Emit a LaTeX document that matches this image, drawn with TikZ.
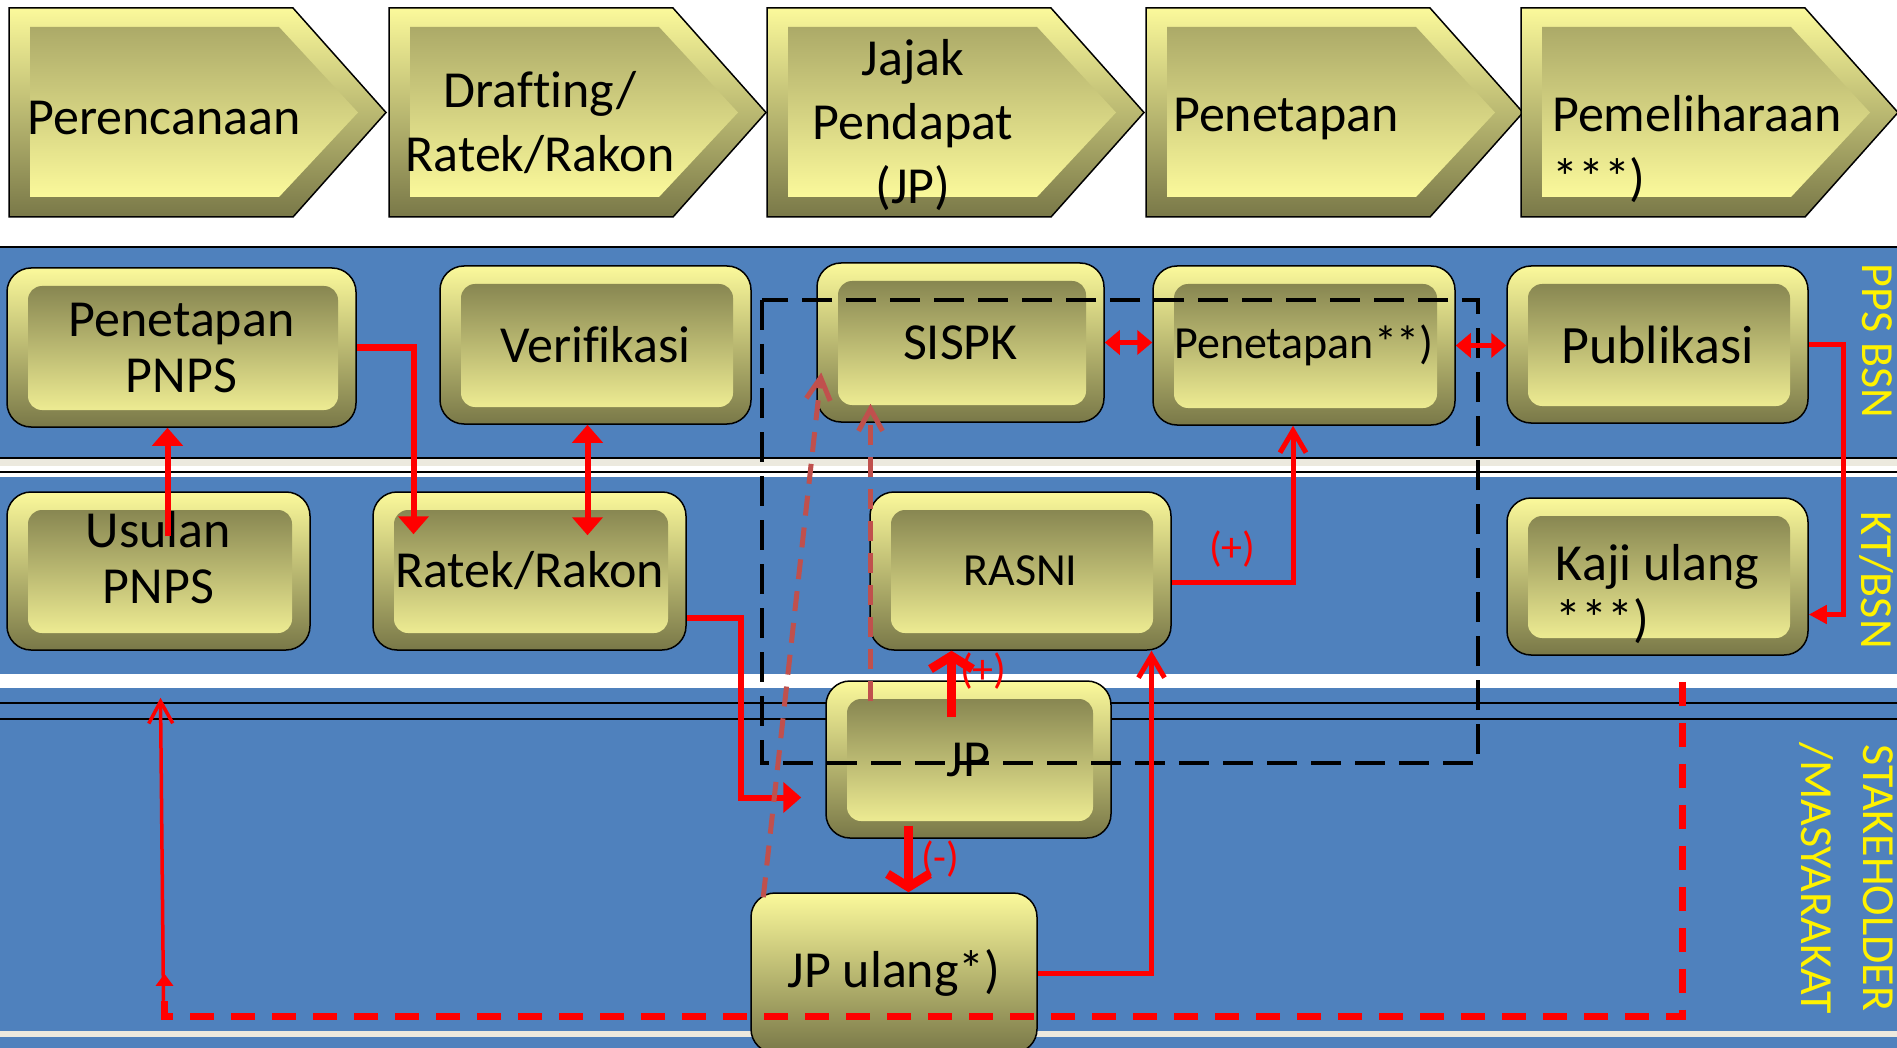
\documentclass[tikz,border=0pt]{standalone}
\usepackage{fontspec}
\setmainfont{Carlito}[Ligatures=CommonOff]
\usetikzlibrary{positioning,arrows.meta,calc}

\definecolor{lane}{RGB}{79,129,189}
\definecolor{ylight}{RGB}{251,249,155}
\definecolor{ymid}{RGB}{172,170,104}
\definecolor{ydark}{RGB}{121,120,72}
\definecolor{cream}{RGB}{236,233,222}
\definecolor{hintred}{RGB}{192,80,77}

\begin{document}
\begin{tikzpicture}[
    x=1pt, y=-1pt,
    stage/.style={draw=black, line width=1.5pt, top color=ylight, bottom color=ydark},
    stagein/.style={top color=ymid, bottom color=ylight},
    stagetext/.style={font=\fontsize{52}{64}\selectfont, inner sep=0pt},
    box/.style={draw=black, line width=1.5pt, rounded corners=24pt, top color=ylight, bottom color=ydark,
        inner sep=0pt, align=center, font=\fontsize{52}{56}\selectfont,
        path picture={\path[top color=ydark, bottom color=ylight, rounded corners=14pt]
            ($(path picture bounding box.north west)+(21,18)$) rectangle
            ($(path picture bounding box.south east)+(-18,-17)$);}},
    plainbox/.style={draw=black, line width=1.5pt, rounded corners=24pt, top color=ylight, bottom color=ydark,
        inner sep=0pt, font=\fontsize{52}{56}\selectfont},
    lanelabel/.style={yellow, rotate=-90, font=\fontsize{46}{62}\selectfont, align=center, inner sep=0pt},
    sign/.style={red, font=\fontsize{42}{44}\selectfont, inner sep=2pt},
    arr/.style={red, line width=6pt, -{Triangle[length=18pt,width=30pt]}},
    arrtwo/.style={red, line width=6pt, {Triangle[length=18pt,width=30pt]}-{Triangle[length=18pt,width=30pt]}},
    dbl/.style={red, line width=5pt, {Triangle[length=15pt,width=24pt]}-{Triangle[length=15pt,width=24pt]}},
    arrsmall/.style={red, line width=5pt, -{Triangle[length=18pt,width=18pt]}},
    open/.style={red, line width=5pt, -{Straight Barb[length=22pt,width=26pt]}},
    bigarr/.style={red, line width=9pt, -{Straight Barb[length=13pt,width=42pt]}},
    openthin/.style={red, line width=3.5pt, -{Straight Barb[length=22pt,width=24pt]}},
    feedback/.style={red, line width=7pt, dash pattern=on 24pt off 17pt, -{Triangle[length=12pt,width=17pt]}},
    hint/.style={hintred, line width=5pt, dash pattern=on 20pt off 12pt, -{Straight Barb[length=22pt,width=24pt]}},
    frame/.style={black, line width=4pt, dash pattern=on 30pt off 14pt}
]
\useasboundingbox (0,0) rectangle (1897,1048);
\clip (0,0) rectangle (1897,1048);

% lanes
\fill[white] (0,0) rectangle (1897,1048);
\fill[lane] (0,247) rectangle (1897,1048);
\draw[line width=2pt] (0,247) -- (1897,247);
\fill[cream] (0,458) rectangle (1897,466);
\fill[white] (0,466) rectangle (1897,477);
\draw[line width=2pt] (0,458) -- (1897,458) (0,471.5) -- (1897,471.5);
\fill[white] (0,674) rectangle (1897,688);
\draw[line width=1.8pt] (0,703) -- (1897,703) (0,719) -- (1897,719);
\fill[cream] (0,1031) rectangle (1897,1037);

% phases on top
\foreach \x in {9,389,767,1146,1521}{
  \path[stage] (\x,8) -- ++(284,0) -- ++(93,104.5) -- ++(-93,104.5) -- ++(-284,0) -- cycle;
  \path[stagein] (\x+21,27) -- (\x+270,27) -- (\x+349,112.5) -- (\x+270,197) -- (\x+21,197) -- cycle;
}
\node[stagetext] (plan) at (164,118) {Perencanaan};
\node[stagetext, align=center] (draft) at (540,123) {Drafting/\\Ratek/Rakon};
\node[stagetext, align=center] (poll) at (913,125) {Jajak\\Pendapat\\(JP)};
\node[stagetext, anchor=west] (decide) at (1173,119) {Penetapan};
\node[stagetext, align=left, anchor=north west] (maint) at (1552,95) {Pemeliharaan\\{}***)};

% lane names
\node[lanelabel] (pps) at (1877,341) {PPS BSN};
\node[lanelabel] (kt) at (1876,580) {KT/BSN};
\node[lanelabel] (stake) at (1846,878) {STAKEHOLDER\\/MASYARAKAT};

% steps
\node[box, minimum width=349pt, minimum height=159pt] (pnps) at (181.5,347.5) {Penetapan\\PNPS};
\node[box, minimum width=311pt, minimum height=158pt] (verif) at (595.5,345) {Verifikasi};
\node[box, minimum width=303pt, minimum height=158pt] (usulan) at (158.5,571)
    {\raisebox{7pt}[\height][\depth]{\begin{tabular}{@{}c@{}}Usulan\\PNPS\end{tabular}}};
\node[box, minimum width=313pt, minimum height=158pt] (ratek) at (529.5,571) {Ratek/Rakon};
\node[box, minimum width=287pt, minimum height=159pt] (sispk) at (960.5,342.5) {SISPK};
\node[box, minimum width=302pt, minimum height=159pt, font=\fontsize{46}{50}\selectfont] (penet) at (1304,345.5) {Penetapan**)};
\node[box, minimum width=301pt, minimum height=158pt, font=\fontsize{46}{50}\selectfont] (rasni) at (1020.5,571) {RASNI};
\node[box, minimum width=301pt, minimum height=157pt, font=\fontsize{54}{58}\selectfont] (publ) at (1657.5,344.5) {Publikasi};
\node[box, minimum width=301pt, minimum height=157pt] (kaji) at (1657.5,576.5)
    {\raisebox{-21pt}[\height][\depth]{\begin{tabular}{@{}l@{}}Kaji ulang\\{}***)\end{tabular}}};
\node[box, minimum width=285pt, minimum height=157pt] (jp) at (968.5,759.5) {JP};
\node[plainbox, minimum width=286pt, minimum height=160pt] (jpu) at (894,973) {JP ulang*)};

% JP scope
\draw[frame] (762,300) rectangle (1478,763);

% flow
\draw[arr] ([xshift=9pt,yshift=-45pt]usulan.north) -- ([xshift=9pt]usulan.north |- pnps.south);
\draw[arr] (pnps.east) -| ($(ratek.north)+(-116,43)$);
\draw[arrtwo] ($(verif.south)+(-8,0)$) -- ($(verif.south |- ratek.north)+(-8,44)$);
\draw[arr] ($(ratek.east)+(0,47)$) -- ++(54,0) |- ($(jp.west)+(-24,38)$);
\draw[dbl] (sispk.east) -- (sispk.east -| penet.west);
\draw[dbl] (penet.east) -- (penet.east -| publ.west);
\draw[arrsmall] (publ.east) -- ++(35,0) |- ($(kaji.east)+(0,38)$);
\draw[open] ($(rasni.east)+(0,11)$) -| node[sign, pos=0.25, above=10pt] {(+)} ($(penet.south)+(-11,0)$);
\draw[bigarr] ([xshift=-17pt,yshift=-37pt]jp.north) -- node[sign, pos=0.7, right=2pt] {(+)} ([xshift=-17pt]jp.north |- rasni.south);
\draw[bigarr] ([xshift=-60pt,yshift=13pt]jp.south) -- node[sign, right=6pt] {(-)} ([xshift=-60pt]jp.south |- jpu.north);
\draw[open] (jpu.east) -| ([xshift=131pt]rasni.south);

% review loop
\draw[feedback] ($(kaji.south)+(25,26)$) -- ++(0,335) -| ($(usulan.south)+(6,323)$);
\draw[openthin] ($(usulan.south)+(5,350)$) -- ($(usulan.south)+(2,47)$);

% back to SISPK
\draw[hint] ($(jpu.north west)+(13,5)$) -- ($(sispk.west)+(5,30)$);
\draw[hint] ($(jp.north)+(-98,21)$) -- ($(jp.north |- sispk.south)+(-98,-19)$);
\end{tikzpicture}
\end{document}
